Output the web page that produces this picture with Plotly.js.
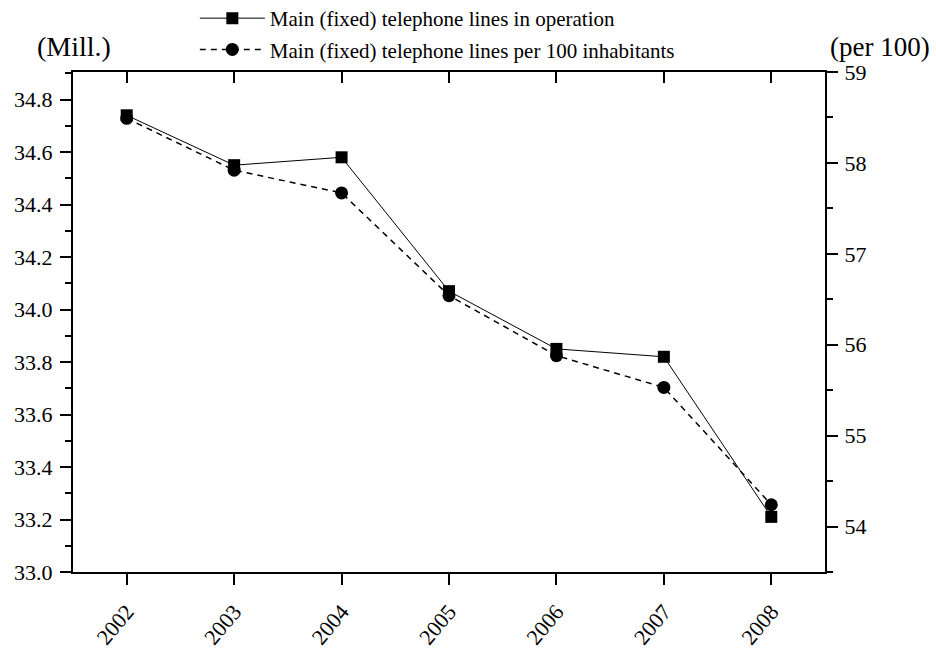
<!DOCTYPE html>
<html>
<head>
<meta charset="utf-8">
<script src="https://cdn.plot.ly/plotly-3.0.1.min.js"></script>
<style>
  html, body { margin: 0; padding: 0; background: #fff; }
  #chart { width: 936px; height: 651px; }
</style>
</head>
<body>
<div id="chart"></div>
<script>
// Fixed telephone lines, 2002-2008
const years = [2002, 2003, 2004, 2005, 2006, 2007, 2008];
const linesInOperation = [34.74, 34.55, 34.58, 34.07, 33.85, 33.82, 33.21];   // millions
const linesPer100 = [58.49, 57.92, 57.67, 56.54, 55.88, 55.53, 54.24];        // per 100 inhabitants
const yearLabels = ['2002', '2003', '2004', '2005', '2006', '2007', '2008'];

const serif = '"Liberation Serif", "Times New Roman", serif';

const traces = [
  {
    x: years, y: linesInOperation,
    name: 'Main (fixed) telephone lines in operation',
    type: 'scatter', mode: 'lines+markers',
    line: { color: '#000', width: 1 },
    marker: { symbol: 'square', size: 12, color: '#000' },
    legendgroup: 'a',
    xaxis: 'x', yaxis: 'y'
  },
  {
    x: years, y: linesPer100,
    name: 'Main (fixed) telephone lines per 100 inhabitants',
    type: 'scatter', mode: 'lines+markers',
    line: { color: '#000', width: 1.5, dash: '6px,5px' },
    marker: { symbol: 'circle', size: 13, color: '#000' },
    legendgroup: 'b',
    xaxis: 'x2', yaxis: 'y2'
  }
];

const axisCommon = {
  showgrid: false, zeroline: false,
  showline: true, linecolor: '#000', linewidth: 2,
  tickcolor: '#000', tickwidth: 2, ticklen: 11,
  tickfont: { family: serif, size: 22, color: '#000' }
};

const layout = {
  width: 936, height: 651,
  margin: { l: 73, r: 111, t: 72, b: 79, autoexpand: false },
  paper_bgcolor: '#fff', plot_bgcolor: '#fff',
  font: { family: serif, color: '#000' },
  showlegend: true,
  legend: {
    x: 0.162, y: 1.148, xanchor: 'left', yanchor: 'top',
    font: { family: serif, size: 21, color: '#000' },
    bgcolor: 'rgba(0,0,0,0)', borderwidth: 0,
    itemwidth: 65, tracegroupgap: 1
  },
  xaxis: Object.assign({}, axisCommon, {
    range: [2001.5, 2008.5],
    tickmode: 'array', tickvals: years, ticktext: yearLabels,
    ticks: 'outside', tickangle: -50, ticklabelstandoff: 5
  }),
  xaxis2: Object.assign({}, axisCommon, {
    range: [2001.5, 2008.5], overlaying: 'x', side: 'top', anchor: 'y2',
    tickmode: 'array', tickvals: years,
    ticks: 'inside', showticklabels: false
  }),
  yaxis: Object.assign({}, axisCommon, {
    range: [33.0, 34.905], dtick: 0.2, tick0: 33, tickformat: '.1f',
    ticks: 'outside', ticklabelstandoff: 3,
    minor: { dtick: 0.1, tick0: 33, ticks: 'outside', ticklen: 6, tickwidth: 2, tickcolor: '#000' }
  }),
  yaxis2: Object.assign({}, axisCommon, {
    range: [53.5, 59], dtick: 1, tick0: 54, overlaying: 'y', side: 'right', anchor: 'x2',
    ticks: 'outside', ticklabelstandoff: 2,
    minor: { dtick: 0.5, tick0: 54, ticks: 'outside', ticklen: 6, tickwidth: 2, tickcolor: '#000' }
  }),
  annotations: [
    { text: '(Mill.)', xref: 'paper', yref: 'paper', x: 0.001, y: 1.05,
      xanchor: 'center', yanchor: 'middle', showarrow: false,
      font: { family: serif, size: 28, color: '#000' } },
    { text: '(per 100)', xref: 'paper', yref: 'paper', x: 1.073, y: 1.05,
      xanchor: 'center', yanchor: 'middle', showarrow: false,
      font: { family: serif, size: 27, color: '#000' } }
  ]
};

Plotly.newPlot('chart', traces, layout, { displayModeBar: false, staticPlot: true });
</script>
</body>
</html>
